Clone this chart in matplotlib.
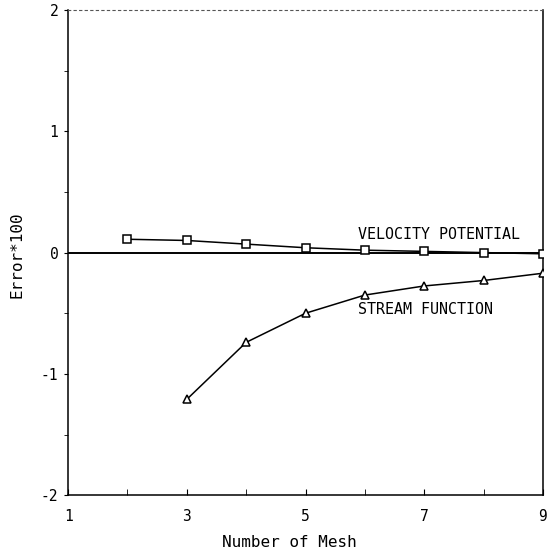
import matplotlib
matplotlib.use("Agg")
import matplotlib.pyplot as plt
from matplotlib.ticker import MultipleLocator

# convergence of error vs mesh count
mesh_vp = [2, 3, 4, 5, 6, 7, 8, 9]
err_vp = [0.11, 0.10, 0.07, 0.04, 0.02, 0.01, 0.0, -0.01]

mesh_sf = [3, 4, 5, 6, 7, 8, 9]
err_sf = [-1.21, -0.74, -0.50, -0.35, -0.275, -0.23, -0.17]

x_ticks = [1, 3, 5, 7, 9]
y_ticks = [-2, -1, 0, 1, 2]

plt.rcParams["font.family"] = ["DejaVu Sans Mono"]
plt.rcParams["axes.unicode_minus"] = False

fig = plt.figure(figsize=(5.49, 5.57), dpi=100)
ax = fig.add_axes([0.124, 0.111, 0.865, 0.871])

ax.axhline(0, color="black", linewidth=1.4, zorder=1)
ax.plot(mesh_vp, err_vp, color="black", linewidth=1.1, marker="s",
        markersize=6, markerfacecolor="white", markeredgecolor="black",
        markeredgewidth=1.1, zorder=3)
ax.plot(mesh_sf, err_sf, color="black", linewidth=1.1, marker="^",
        markersize=6, markerfacecolor="white", markeredgecolor="black",
        markeredgewidth=1.1, zorder=3)

ax.text(5.88, 0.15, "VELOCITY POTENTIAL", fontsize=10.8, ha="left", va="center")
ax.text(5.88, -0.47, "STREAM FUNCTION", fontsize=10.8, ha="left", va="center")

ax.set_xlim(1, 9)
ax.set_ylim(-2, 2)
ax.set_xticks(x_ticks)
ax.set_yticks(y_ticks)
ax.xaxis.set_minor_locator(MultipleLocator(1))
ax.yaxis.set_minor_locator(MultipleLocator(0.5))
ax.tick_params(axis="x", which="both", direction="in", length=4, pad=10, labelsize=10.5)
ax.tick_params(axis="y", which="both", direction="out", length=3, pad=4, labelsize=10.5)
ax.tick_params(top=False, right=False)

ax.set_xlabel("Number of Mesh", fontsize=11.5)
ax.set_ylabel("Error*100", fontsize=11.5)
ax.xaxis.set_label_coords(0.465, -0.083)
ax.yaxis.set_label_coords(-0.092, 0.495)

ax.spines["top"].set_linestyle((0, (2, 3)))
ax.spines["top"].set_color("#555555")
ax.spines["top"].set_linewidth(0.8)
for s in ["left", "right", "bottom"]:
    ax.spines[s].set_linewidth(1.1)

fig.savefig("out.png", dpi=100)
plt.close(fig)
